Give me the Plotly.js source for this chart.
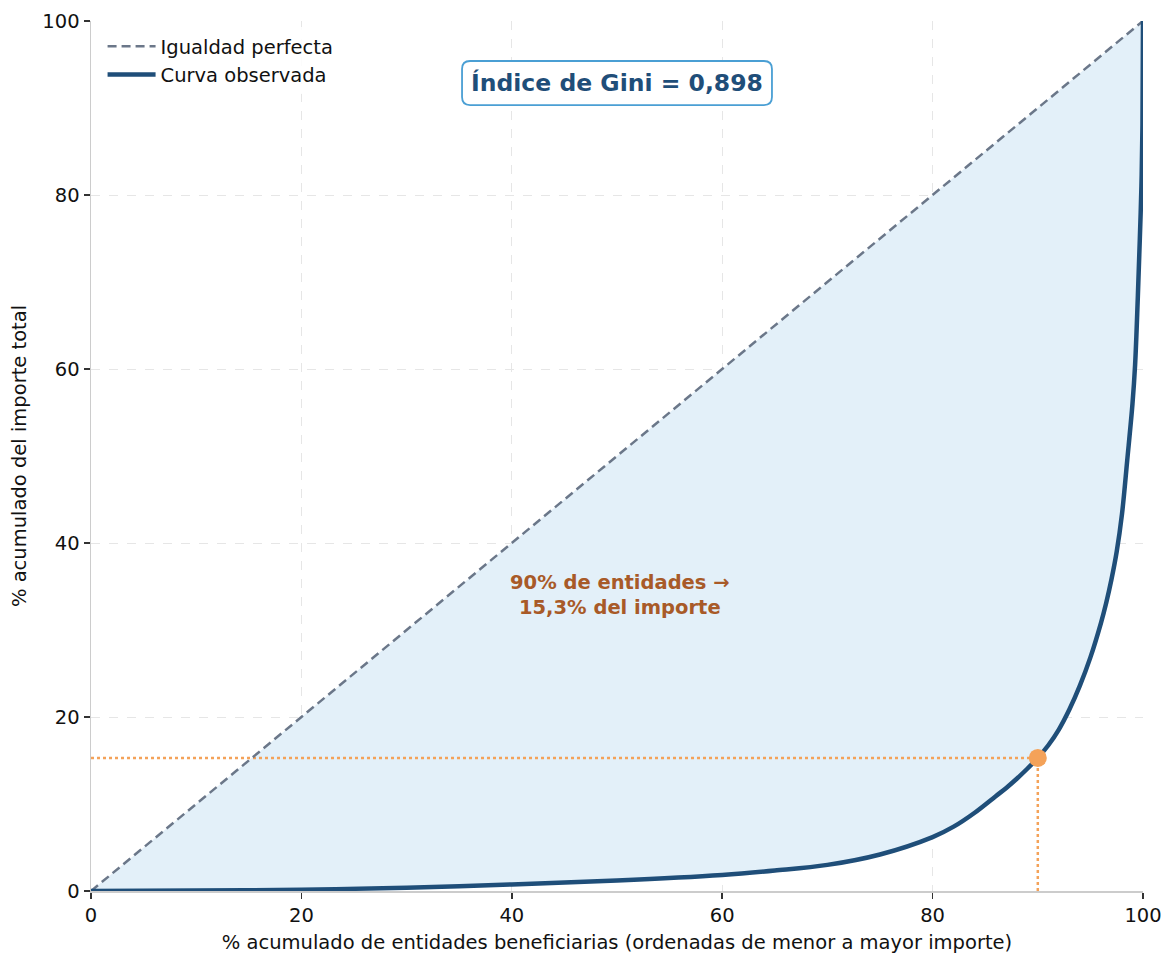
<!DOCTYPE html>
<html>
<head>
<meta charset="utf-8">
<script src="https://cdn.plot.ly/plotly-3.0.1.min.js"></script>
<style>html,body{margin:0;padding:0;background:#fff;}#chart{width:1175px;height:964px;}</style>
</head>
<body>
<div id="chart"></div>
<script>
// Data
const equalityX = [0, 100];
const equalityY = [0, 100];
const lorenzX = [0, 10, 20, 30, 40, 50, 60, 65, 70, 75, 80, 82, 84, 86, 87, 88, 89, 90, 91, 92, 93, 94, 95, 96, 96.5, 97, 97.5, 98, 98.5, 99, 99.25, 99.5, 99.7, 99.85, 99.95, 100];
const lorenzY = [0, 0.05, 0.15, 0.38, 0.75, 1.2, 1.84, 2.35, 3.0, 4.2, 6.2, 7.4, 9.0, 10.9, 11.85, 12.9, 14.05, 15.3, 16.75, 18.55, 20.85, 23.6, 26.85, 30.8, 33.1, 35.8, 39.0, 43.3, 49.5, 56.0, 60.5, 68.0, 75.0, 81.0, 88.0, 100];
const markX = 90;
const markY = 15.3;
const giniText = "Índice de Gini = 0,898";
const noteText = "90% de entidades →<br>15,3% del importe";
const tickVals = [0, 20, 40, 60, 80, 100];

const font = "DejaVu Sans, sans-serif";
const traces = [
  {x: equalityX, y: equalityY, mode: 'lines', line: {width: 0, color: 'rgba(0,0,0,0)'}, showlegend: false, hoverinfo: 'skip'},
  {x: lorenzX, y: lorenzY, mode: 'lines', line: {width: 0, shape: 'spline', smoothing: 1}, fill: 'tonexty', fillcolor: '#e3f0f9', showlegend: false, hoverinfo: 'skip'},
  {x: [0, markX], y: [markY, markY], mode: 'lines', line: {color: '#f4a259', width: 2.5, dash: 'dot'}, showlegend: false},
  {x: [markX, markX], y: [0, markY], mode: 'lines', line: {color: '#f4a259', width: 2.5, dash: 'dot'}, showlegend: false},
  {x: equalityX, y: equalityY, mode: 'lines', name: 'Igualdad perfecta', line: {color: '#6b7789', width: 2.5, dash: '9px,5px'}},
  {x: lorenzX, y: lorenzY, mode: 'lines', name: 'Curva observada', line: {color: '#1f4e79', width: 4.5, shape: 'spline', smoothing: 1}},
  {x: [markX], y: [markY], mode: 'markers', marker: {color: '#f4a259', size: 18}, showlegend: false}
];

// rounded box for Gini label (x data units, y data units)
const bx0 = 35.27, bx1 = 64.73, by0 = 90.34, by1 = 95.4, rx = 0.76, ry = 0.92;
const boxPath = `M ${bx0+rx},${by0} L ${bx1-rx},${by0} Q ${bx1},${by0} ${bx1},${by0+ry} L ${bx1},${by1-ry} Q ${bx1},${by1} ${bx1-rx},${by1} L ${bx0+rx},${by1} Q ${bx0},${by1} ${bx0},${by1-ry} L ${bx0},${by0+ry} Q ${bx0},${by0} ${bx0+rx},${by0} Z`;

const layout = {
  width: 1175, height: 964,
  margin: {l: 91, r: 32, t: 21, b: 73},
  paper_bgcolor: '#fff', plot_bgcolor: '#fff',
  font: {family: font, size: 19.5, color: '#111'},
  showlegend: true,
  legend: {x: 0.011, y: 0.993, xanchor: 'left', yanchor: 'top', traceorder: 'normal', bgcolor: 'rgba(255,255,255,0.85)', font: {size: 19.5, family: font}, itemwidth: 48, tracegroupgap: 0},
  xaxis: {
    range: [0, 100], tickvals: tickVals, ticktext: tickVals.map(String),
    showgrid: true, gridcolor: '#e6e6e6', griddash: 'dash', gridwidth: 1,
    zeroline: false, showline: true, linecolor: '#cccccc', linewidth: 1.5,
    ticks: 'outside', ticklen: 6, tickwidth: 1.5, tickcolor: '#333',
    tickfont: {size: 19.5, family: font},
    title: {text: '% acumulado de entidades beneficiarias (ordenadas de menor a mayor importe)', font: {size: 19.5, family: font}, standoff: 9}
  },
  yaxis: {
    range: [0, 100], tickvals: tickVals, ticktext: tickVals.map(String),
    showgrid: true, gridcolor: '#e6e6e6', griddash: 'dash', gridwidth: 1,
    zeroline: false, showline: true, linecolor: '#cccccc', linewidth: 1.5,
    ticks: 'outside', ticklen: 6, tickwidth: 1.5, tickcolor: '#333',
    tickfont: {size: 19.5, family: font},
    title: {text: '% acumulado del importe total', font: {size: 19.5, family: font}, standoff: 10}
  },
  shapes: [
    {type: 'path', xref: 'x', yref: 'y', path: boxPath, line: {color: '#4a9fd4', width: 1.8}, fillcolor: '#ffffff', layer: 'above'}
  ],
  annotations: [
    {x: 50, y: 92.87, xref: 'x', yref: 'y', text: '<b>' + giniText + '</b>', showarrow: false, font: {size: 23.5, color: '#1f4e79', family: font}},
    {x: 50.3, y: 34.0, xref: 'x', yref: 'y', text: '<b>' + noteText + '</b>', showarrow: false, align: 'center', font: {size: 19.5, color: '#a85a28', family: font}}
  ]
};

Plotly.newPlot('chart', traces, layout, {displayModeBar: false, staticPlot: true});
</script>
</body>
</html>
